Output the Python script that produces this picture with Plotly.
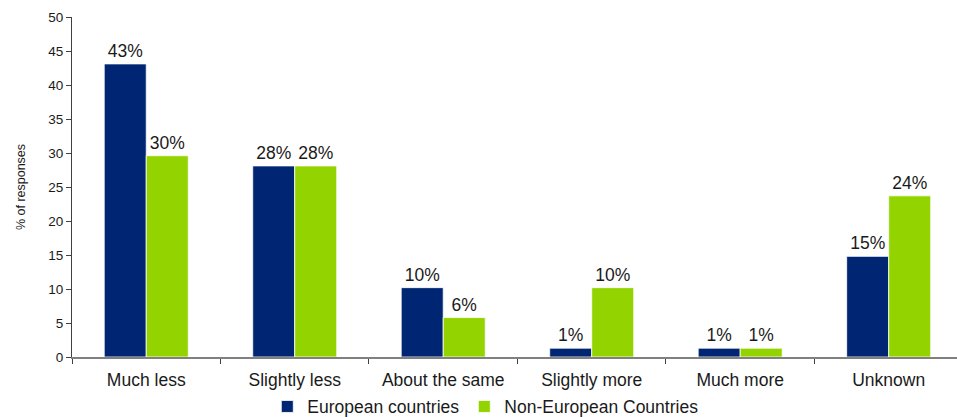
import plotly.graph_objects as go

# Survey responses by category
categories = ["Much less", "Slightly less", "About the same", "Slightly more", "Much more", "Unknown"]
european = [43.1, 28.1, 10.2, 1.3, 1.3, 14.8]
non_european = [29.6, 28.1, 5.8, 10.2, 1.3, 23.7]
y_ticks = [0, 5, 10, 15, 20, 25, 30, 35, 40, 45, 50]

font_family = "Liberation Sans, Arial, sans-serif"
text_color = "#1a1a1a"
label_size = 17.5

fig = go.Figure()
fig.add_trace(go.Bar(
    name="European countries", x=categories, y=european,
    marker=dict(color="#002673", line=dict(color="#ffffff", width=0.8)),
    texttemplate="%{y:.0f}%", textposition="outside",
    textfont=dict(size=label_size, color=text_color, family=font_family),
    cliponaxis=False,
))
fig.add_trace(go.Bar(
    name="Non-European Countries", x=categories, y=non_european,
    marker=dict(color="#93d400", line=dict(color="#ffffff", width=0.8)),
    texttemplate="%{y:.0f}%", textposition="outside",
    textfont=dict(size=label_size, color=text_color, family=font_family),
    cliponaxis=False,
))

fig.update_layout(
    width=957, height=417,
    margin=dict(l=72, r=0, t=17, b=60, autoexpand=False),
    paper_bgcolor="white", plot_bgcolor="white",
    barmode="group", bargap=0.434, bargroupgap=0.0,
    font=dict(family=font_family, color=text_color),
    legend=dict(
        orientation="h", x=0.467, xanchor="center",
        yref="container", y=0.025, yanchor="middle",
        font=dict(size=label_size, family=font_family, color=text_color),
        traceorder="normal", bgcolor="rgba(0,0,0,0)",
    ),
    xaxis=dict(
        range=[-0.5, 5.46], showgrid=False, showline=True, linecolor="#808080", linewidth=1.5,
        ticks="outside", tickson="boundaries", ticklen=5, tickcolor="#404040",
        ticklabelstandoff=6,
        tickfont=dict(size=label_size, family=font_family, color=text_color),
        fixedrange=True,
    ),
    yaxis=dict(
        range=[0, 50], tickvals=y_ticks, showgrid=False, showline=True,
        linecolor="#404040", linewidth=1, ticks="outside", ticklen=5, tickcolor="#404040",
        tickfont=dict(size=13.5, family=font_family, color=text_color),
        title=dict(text="% of responses", font=dict(size=12.5, family=font_family, color=text_color), standoff=19),
        zeroline=False,
    ),
)

fig.write_html("out.html")
